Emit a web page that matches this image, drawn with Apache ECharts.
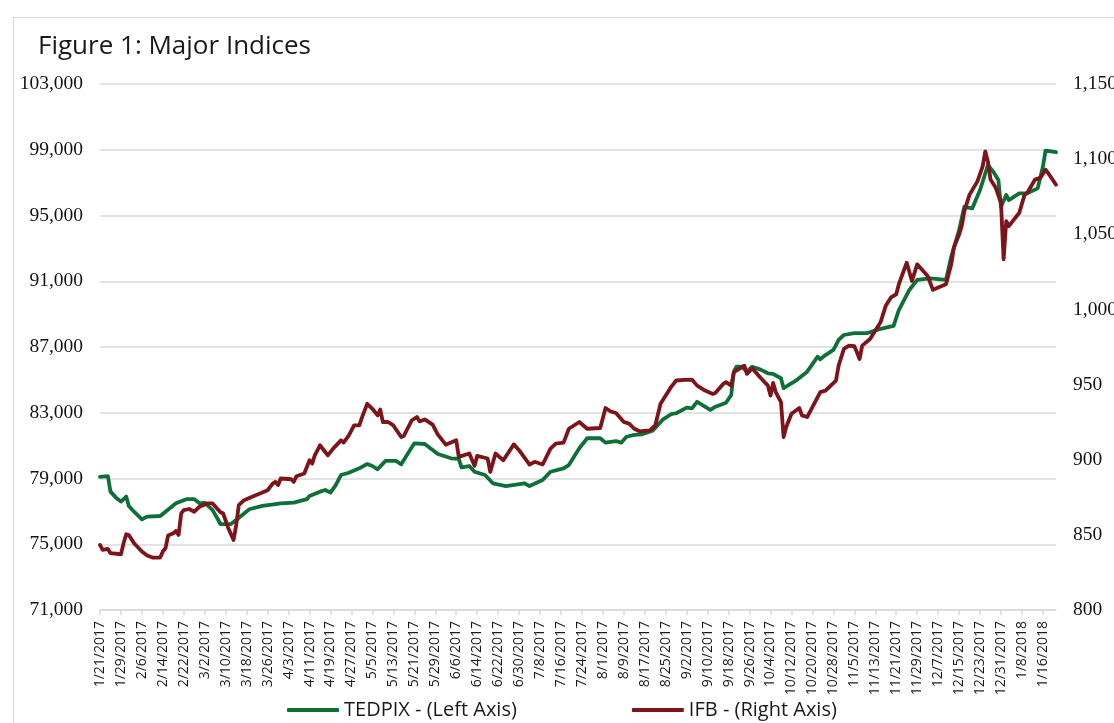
<!DOCTYPE html>
<html>
<head>
<meta charset="utf-8">
<script src="https://cdn.jsdelivr.net/npm/echarts@6/dist/echarts.min.js"></script>
<style>
html,body{margin:0;padding:0;background:#fff;}
#chart{width:1114px;height:723px;}
</style>
</head>
<body>
<div id="chart"></div>
<script>
// Day offsets are counted from 1/21/2017 (the first category).
const startYear = 2017, startMonth = 0, startDay = 21, dayCount = 366;
const leftTicks = {min: 71000, max: 103000, interval: 4000};
const rightTicks = {min: 800, max: 1150, interval: 50};

// TEDPIX - [day offset, value] (left axis)
const tedpix = [
[0,79100],[3,79150],[4,78200],[6,77850],[8,77600],[10,77900],[11,77330],[13,76980],[16,76520],[18,76680],
[23,76720],[25,76980],[29,77490],[33,77740],[36,77740],[38,77490],[40,77530],[43,77080],[46,76230],[50,76230],
[52,76480],[57,77130],[62,77330],[69,77490],[74,77530],[79,77740],[80,77940],[84,78200],[86,78300],[88,78140],
[90,78600],[92,79210],[95,79350],[99,79620],[102,79880],[104,79760],[106,79560],[109,80070],[113,80070],[115,79860],
[120,81140],[124,81100],[129,80490],[134,80230],[137,80190],[138,79680],[141,79760],[143,79410],[147,79210],[150,78710],
[155,78540],[162,78710],[164,78540],[169,78910],[172,79410],[177,79620],[179,79820],[183,80840],[186,81450],[191,81450],
[193,81180],[197,81280],[199,81180],[201,81540],[204,81650],[207,81690],[211,81910],[215,82600],[218,82910],[220,82970],
[224,83310],[226,83270],[228,83670],[230,83470],[233,83170],[235,83370],[239,83610],[241,84080],[242,85500],[243,85800],
[245,85800],[247,85500],[249,85800],[252,85640],[255,85400],[257,85360],[260,85100],[261,84490],[263,84690],[266,84990],
[270,85500],[274,86410],[275,86250],[277,86510],[280,86820],[281,87120],[282,87430],[284,87730],[288,87850],[293,87850],
[298,88100],[303,88280],[305,89250],[309,90470],[312,91080],[317,91180],[323,91080],[325,92490],[328,94110],[330,95530],
[333,95430],[336,96550],[339,98070],[341,97670],[343,97160],[344,95530],[346,96250],[347,95940],[351,96350],[354,96350],
[358,96650],[360,97970],[361,98950],[365,98850]
];

// IFB - [day offset, value] (right axis)
const ifb = [
[0,843.3],[1,840.0],[3,840.6],[4,837.8],[8,837.1],[9,844.4],[10,850.4],[11,849.9],[13,844.4],[16,838.9],
[18,836.3],[20,834.9],[23,834.9],[24,838.9],[25,841.1],[26,849.5],[28,851.0],[29,852.6],[30,849.9],[31,864.3],
[32,866.5],[34,867.2],[36,865.4],[38,868.7],[41,870.9],[43,870.9],[46,865.0],[47,864.3],[49,854.4],[51,846.6],
[52,856.5],[53,869.8],[55,873.1],[59,876.0],[62,878.2],[64,879.7],[66,884.2],[67,885.3],[68,883.1],[69,887.5],
[73,887.0],[74,885.3],[75,889.0],[78,890.8],[80,899.6],[81,897.4],[82,902.9],[84,909.6],[87,902.9],[89,907.4],
[92,912.9],[93,911.4],[95,916.2],[97,922.8],[99,922.8],[100,928.0],[102,937.2],[104,933.9],[106,929.5],[107,933.4],
[108,925.1],[110,925.1],[112,922.8],[115,915.1],[116,915.8],[119,926.1],[121,928.4],[122,925.5],[124,926.8],[127,923.3],
[129,916.7],[130,914.5],[132,910.0],[134,911.4],[136,912.9],[137,901.9],[141,904.1],[143,895.9],[144,902.5],[148,900.8],
[149,891.9],[151,904.1],[154,899.6],[158,910.2],[160,906.3],[164,896.8],[166,898.6],[169,896.8],[172,907.4],[174,910.7],
[177,911.4],[179,920.6],[183,925.1],[186,920.6],[191,921.1],[193,934.4],[195,932.1],[197,931.1],[200,925.1],[202,924.0],
[204,920.6],[206,918.9],[210,919.5],[212,922.8],[214,937.2],[216,942.7],[218,948.3],[220,952.7],[223,953.1],[226,953.3],
[228,949.3],[231,946.0],[234,943.8],[235,944.5],[238,950.5],[239,951.6],[241,949.3],[242,958.2],[244,960.4],[246,962.6],
[247,957.1],[249,960.9],[252,954.9],[255,949.3],[256,942.7],[257,951.1],[258,945.0],[260,938.3],[261,915.1],[262,921.8],
[264,930.6],[267,934.4],[268,929.5],[270,928.4],[272,935.0],[275,945.0],[277,946.0],[281,952.7],[282,962.6],[284,973.7],
[286,975.9],[288,975.5],[289,971.5],[290,967.0],[291,975.9],[294,980.3],[298,991.4],[300,1002.4],[302,1008.0],[304,1010.1],
[305,1016.8],[308,1031.1],[310,1018.9],[312,1030.0],[316,1022.3],[318,1013.0],[320,1014.6],[323,1016.8],[325,1030.0],[326,1041.1],
[328,1049.9],[329,1055.4],[330,1065.4],[332,1076.4],[335,1085.2],[337,1095.2],[338,1105.1],[339,1098.5],[340,1086.4],[342,1080.9],
[344,1070.9],[345,1033.3],[346,1058.7],[347,1055.4],[349,1059.9],[351,1064.3],[353,1076.4],[354,1077.5],[357,1086.4],[359,1087.5],
[361,1093.0],[362,1090.8],[365,1083.0]
];

const categories = [];
for (let i = 0; i < dayCount; i++) {
  const d = new Date(startYear, startMonth, startDay + i);
  categories.push((d.getMonth() + 1) + '/' + d.getDate() + '/' + d.getFullYear());
}
const toSeries = arr => arr.map(p => [categories[p[0]], p[1]]);
const fmt = v => Math.round(v).toString().replace(/\B(?=(\d{3})+(?!\d))/g, ',');

const GREEN = '#0e7038', RED = '#7d1419', GRID = '#d9d9d9';
const chart = echarts.init(document.getElementById('chart'));
chart.setOption({
  animation: false,
  backgroundColor: '#fff',
  graphic: [{
    type: 'rect', left: 11, top: 15, silent: true,
    shape: {width: 1200, height: 800},
    style: {fill: 'none', stroke: GRID, lineWidth: 1.2}
  }],
  title: {
    text: 'Figure 1: Major Indices', left: 33, top: 29,
    textStyle: {fontFamily: 'Open Sans', fontSize: 26, fontWeight: 'normal', color: '#1a1a1a'}
  },
  legend: {
    bottom: -2, left: 287, itemGap: 115, itemWidth: 52, itemHeight: 4,
    icon: 'roundRect', padding: [5, 0, 5, 0],
    textStyle: {fontFamily: 'Open Sans', fontSize: 20, color: '#1a1a1a'},
    data: ['TEDPIX - (Left Axis)', 'IFB - (Right Axis)']
  },
  grid: {left: 100, right: 58, top: 84, bottom: 113, containLabel: false, outerBoundsMode: 'none'},
  xAxis: {
    type: 'category', data: categories, boundaryGap: false,
    axisLine: {lineStyle: {color: GRID, width: 1.5}},
    axisTick: {show: true, interval: 7, length: 5, lineStyle: {color: GRID, width: 1.5}},
    axisLabel: {interval: 7, rotate: 90, margin: 11, fontFamily: 'Open Sans', fontSize: 14, color: '#1a1a1a'},
    splitLine: {show: false}
  },
  yAxis: [{
    type: 'value', min: leftTicks.min, max: leftTicks.max, interval: leftTicks.interval,
    axisLine: {show: false}, axisTick: {show: false},
    axisLabel: {margin: 17, fontFamily: 'Liberation Serif', fontSize: 19.5, color: '#111', formatter: fmt},
    splitLine: {lineStyle: {color: GRID, width: 1.5}}
  }, {
    type: 'value', min: rightTicks.min, max: rightTicks.max, interval: rightTicks.interval,
    position: 'right',
    axisLine: {show: false}, axisTick: {show: false},
    axisLabel: {margin: 17, fontFamily: 'Liberation Serif', fontSize: 19.5, color: '#111', formatter: fmt},
    splitLine: {show: false}
  }],
  series: [{
    name: 'TEDPIX - (Left Axis)', type: 'line', yAxisIndex: 0,
    data: toSeries(tedpix), showSymbol: false, symbol: 'none',
    lineStyle: {color: GREEN, width: 3.8, cap: 'round', join: 'round'},
    itemStyle: {color: GREEN}, z: 2
  }, {
    name: 'IFB - (Right Axis)', type: 'line', yAxisIndex: 1,
    data: toSeries(ifb), showSymbol: false, symbol: 'none',
    lineStyle: {color: RED, width: 3.8, cap: 'round', join: 'round'},
    itemStyle: {color: RED}, z: 3
  }]
});
</script>
</body>
</html>
